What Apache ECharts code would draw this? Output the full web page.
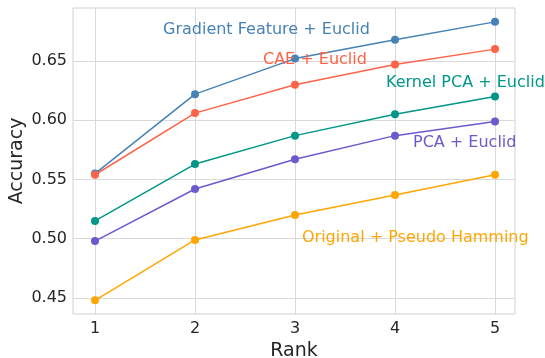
<!DOCTYPE html>
<html><head><meta charset="utf-8">
<script src="https://cdn.jsdelivr.net/npm/echarts@6/dist/echarts.min.js"></script>
<style>html,body{margin:0;padding:0;background:#fff}#c{width:545px;height:358px}</style>
</head><body><div id="c"></div>
<script>
const ranks = [1, 2, 3, 4, 5];
const xTicks = [1, 2, 3, 4, 5];
const yTicks = [0.45, 0.50, 0.55, 0.60, 0.65];
const seriesNames = ['Gradient Feature + Euclid', 'CAE + Euclid', 'Kernel PCA + Euclid', 'PCA + Euclid', 'Original + Pseudo Hamming'];
const gradientVals = [0.555, 0.622, 0.652, 0.668, 0.683];
const caeVals = [0.554, 0.606, 0.630, 0.647, 0.660];
const kpcaVals = [0.515, 0.563, 0.587, 0.605, 0.620];
const pcaVals = [0.498, 0.542, 0.567, 0.587, 0.599];
const origVals = [0.448, 0.499, 0.520, 0.537, 0.554];
const labelAnchors = [[1.68, 0.676], [2.68, 0.651], [3.91, 0.6315], [4.18, 0.581], [3.07, 0.5008]];
const colors = ['#4682b4', '#ff6347', '#009688', '#6a5acd', '#ffa500'];
const allVals = [gradientVals, caeVals, kpcaVals, pcaVals, origVals];

const chart = echarts.init(document.getElementById('c'), null, {renderer: 'canvas'});
const font = 'DejaVu Sans';
chart.setOption({
  animation: false,
  backgroundColor: '#fff',
  grid: {left: 73, right: 30, top: 8, bottom: 44, show: true, borderColor: '#d0d0d0', borderWidth: 1,
    containLabel: false, outerBoundsMode: 'none'},
  xAxis: {
    type: 'value', min: 0.78, max: 5.2,
    name: 'Rank', nameLocation: 'middle', nameGap: 28, nameMoveOverlap: false,
    nameTextStyle: {fontFamily: font, fontSize: 19, color: '#262626'},
    axisLine: {show: false}, axisTick: {show: false, customValues: xTicks},
    axisLabel: {customValues: xTicks, fontFamily: font, fontSize: 16, color: '#262626', margin: 7},
    splitLine: {show: true, lineStyle: {color: '#d9d9d9', width: 1}}
  },
  yAxis: {
    type: 'value', min: 0.4365, max: 0.6947,
    name: 'Accuracy', nameLocation: 'middle', nameGap: 46, nameMoveOverlap: false,
    nameTextStyle: {fontFamily: font, fontSize: 19, color: '#262626'},
    axisLine: {show: false}, axisTick: {show: false, customValues: yTicks},
    axisLabel: {customValues: yTicks, fontFamily: font, fontSize: 16, color: '#262626', margin: 6,
      formatter: v => v.toFixed(2)},
    splitLine: {show: true, lineStyle: {color: '#d9d9d9', width: 1}}
  },
  series: allVals.map((vals, i) => ({
    name: seriesNames[i], type: 'line',
    data: ranks.map((r, j) => [r, vals[j]]),
    symbol: 'circle', symbolSize: 8,
    lineStyle: {color: colors[i], width: 1.5},
    itemStyle: {color: colors[i]},
    markPoint: {
      symbol: 'circle', symbolSize: 0, silent: true,
      data: [{coord: labelAnchors[i], value: seriesNames[i]}],
      label: {show: true, position: 'right', distance: 0, formatter: seriesNames[i],
        fontFamily: font, fontSize: 16, color: colors[i]}
    }
  }))
});
</script></body></html>
